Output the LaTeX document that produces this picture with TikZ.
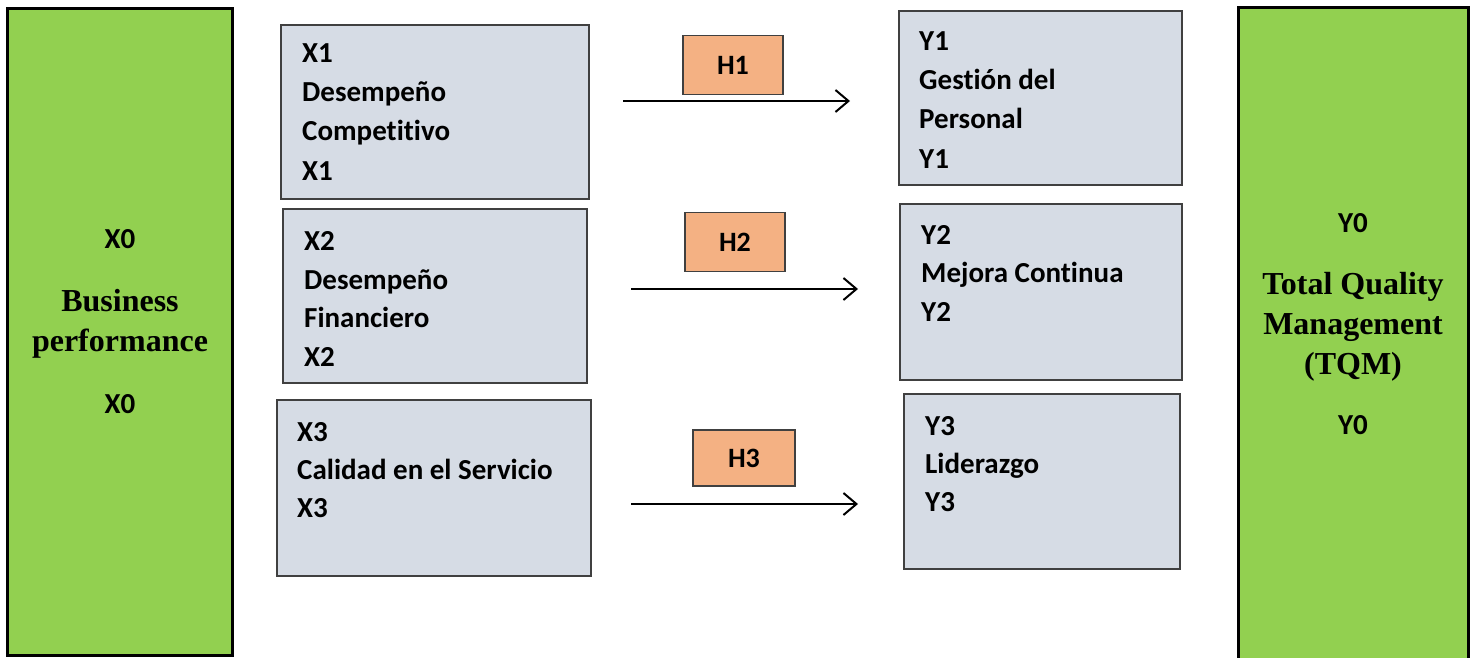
\documentclass[tikz,border=0pt]{standalone}
\usepackage{fontspec}
\setmainfont{Carlito}[Ligatures=NoCommon]
\newfontfamily\tnr{Liberation Serif}
\usetikzlibrary{arrows.meta}
\definecolor{gfill}{HTML}{92D050}
\definecolor{bfill}{HTML}{D6DCE5}
\definecolor{ofill}{HTML}{F4B183}
\definecolor{bdraw}{HTML}{404040}
\begin{document}
\begin{tikzpicture}[x=1pt,y=-1pt,
  greenbox/.style={draw=black,fill=gfill,line width=3pt},
  graybox/.style={draw=bdraw,fill=bfill,line width=1.5pt},
  hbox/.style={draw=bdraw,fill=ofill,line width=1.2pt,font=\fontsize{28}{34}\selectfont\bfseries},
  ln/.style={anchor=base west,inner sep=0pt,font=\fontsize{29}{35}\selectfont\bfseries},
  cn/.style={anchor=base,inner sep=0pt,font=\fontsize{29}{35}\selectfont\bfseries},
  sn/.style={anchor=base,inner sep=0pt,font=\fontsize{32}{38}\selectfont\tnr\bfseries},
  arr/.style={-{Straight Barb[length=13pt,width=22pt,line width=2pt]},line width=2pt}]
\useasboundingbox (0,0) rectangle (1475,658);
% green boxes
\path[greenbox] (7,9) rectangle (232,655);
\path[greenbox] (1238,8) rectangle (1468,680);
\node[cn] (x0a) at (120,248) {X0};
\node[sn] (bp1) at (120,311) {Business};
\node[sn] (bp2) at (120,351) {performance};
\node[cn] (x0b) at (120,413) {X0};
\node[cn] (y0a) at (1353,232) {Y0};
\node[sn] (tq1) at (1353,294) {Total Quality};
\node[sn] (tq2) at (1353,334) {Management};
\node[sn] (tq3) at (1353,374) {(TQM)};
\node[cn] (y0b) at (1353,434) {Y0};
% gray boxes
\path[graybox] (281,25) rectangle (589,199);
\path[graybox] (283,209) rectangle (587,383);
\path[graybox] (277,400) rectangle (591,576);
\path[graybox] (899,11) rectangle (1182,185);
\path[graybox] (900,204) rectangle (1182,380);
\path[graybox] (904,394) rectangle (1180,569);
% X texts
\node[ln] (a1) at (302,63) {X1};
\node[ln] (a2) at (302,102) {Desempeño};
\node[ln] (a3) at (302,141) {Competitivo};
\node[ln] (a4) at (302,180) {X1};
\node[ln] (b1) at (304,250) {X2};
\node[ln] (b2) at (304,289) {Desempeño};
\node[ln] (b3) at (304,327) {Financiero};
\node[ln] (b4) at (304,366) {X2};
\node[ln] (c1) at (297,441) {X3};
\node[ln] (c2) at (297,479) {Calidad en el Servicio};
\node[ln] (c3) at (297,517) {X3};
% Y texts
\node[ln] (d1) at (919,51) {Y1};
\node[ln] (d2) at (919,90) {Gestión del};
\node[ln] (d3) at (919,129) {Personal};
\node[ln] (d4) at (919,168) {Y1};
\node[ln] (e1) at (921,244) {Y2};
\node[ln] (e2) at (921,282) {Mejora Continua};
\node[ln] (e3) at (921,321) {Y2};
\node[ln] (f1) at (925,435) {Y3};
\node[ln] (f2) at (925,473) {Liderazgo};
\node[ln] (f3) at (925,511) {Y3};
% H boxes
\node[hbox,minimum width=100pt,minimum height=59pt] (h1) at (733,65) {H1};
\node[hbox,minimum width=100pt,minimum height=59pt] (h2) at (735,242) {H2};
\node[hbox,minimum width=102pt,minimum height=56pt] (h3) at (744,458) {H3};
% arrows
\coordinate (s1) at (623,101); \coordinate (t1) at (850,101);
\coordinate (s2) at (631,289); \coordinate (t2) at (858,289);
\coordinate (s3) at (631,504); \coordinate (t3) at (858,504);
\draw[arr] (s1) -- (t1);
\draw[arr] (s2) -- (t2);
\draw[arr] (s3) -- (t3);
\end{tikzpicture}
\end{document}
